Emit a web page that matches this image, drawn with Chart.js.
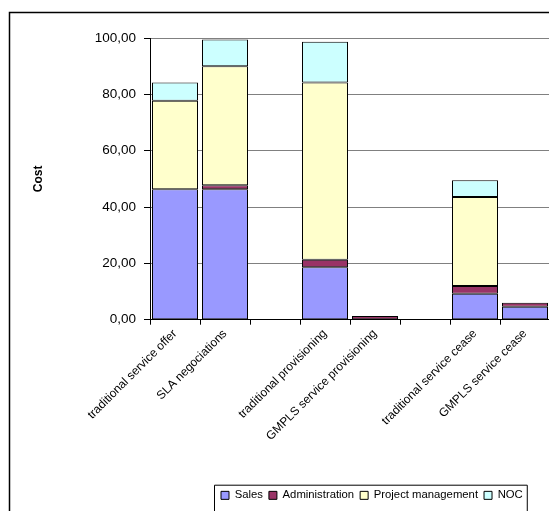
<!DOCTYPE html>
<html><head><meta charset="utf-8">
<script src="https://cdn.jsdelivr.net/npm/chart.js@4.4.0/dist/chart.umd.min.js"></script>
<style>html,body{margin:0;padding:0;overflow:hidden;background:#fff}#wrap{width:552px;height:511px;position:relative}</style>
</head><body><div id="wrap"><canvas id="c"></canvas></div>
<script>
const categories = ["traditional service offer","SLA negociations","","traditional provisioning","GMPLS service provisioning","","traditional service cease","GMPLS service cease"];
const sales = [46.3,46.3,null,18.6,null,null,9.2,4.6];
const administration = [null,1.4,null,2.7,1.3,null,2.8,1.4];
const projectManagement = [31.4,42.3,null,62.9,null,null,31.6,null];
const noc = [6.5,9.5,null,14.5,null,null,5.9,null];
const yTickLabels = ["0,00","20,00","40,00","60,00","80,00","100,00"];

const FONT = "Arial, 'Liberation Sans', sans-serif";

const framePlugin = {
  id: 'frame',
  afterLayout(chart) {
    const l = chart.legend;
    const w = l.right - l.left;
    l.left = 215; l.right = 215 + w;
  },
  afterDraw(chart) {
    const ctx = chart.ctx;
    ctx.save();
    ctx.strokeStyle = '#000';
    ctx.lineWidth = 1.5;
    ctx.beginPath();
    ctx.moveTo(9.5, 600); ctx.lineTo(9.5, 12.5); ctx.lineTo(600, 12.5);
    ctx.stroke();
    const hb = chart.legend.legendHitBoxes;
    if (hb && hb.length) {
      let minX = Infinity, maxX = -Infinity, minY = Infinity;
      hb.forEach(b => { minX = Math.min(minX, b.left); maxX = Math.max(maxX, b.left + b.width); minY = Math.min(minY, b.top); });
      ctx.lineWidth = 1;
      ctx.beginPath();
      ctx.moveTo(minX - 6.5, 600); ctx.lineTo(minX - 6.5, minY - 4.5); ctx.lineTo(maxX + 4.5, minY - 4.5); ctx.lineTo(maxX + 4.5, 600);
      ctx.stroke();
    }
    ctx.restore();
  }
};

const mk = (label, data, color) => ({label, data, backgroundColor: color, borderColor: '#000', borderWidth: 1, borderSkipped: false, barPercentage: 0.92, categoryPercentage: 1});

new Chart(document.getElementById('c'), {
  type: 'bar',
  data: {
    labels: categories,
    datasets: [
      mk('Sales', sales, '#9999FF'),
      mk('Administration', administration, '#993366'),
      mk('Project management', projectManagement, '#FFFFCC'),
      mk('NOC', noc, '#CCFFFF')
    ]
  },
  options: {
    responsive: true, maintainAspectRatio: false, animation: false,
    layout: {padding: {top: 38, left: 31, right: 2, bottom: 0}},
    plugins: {
      tooltip: {enabled: false},
      legend: {
        position: 'bottom', align: 'start', fullSize: false,
        labels: {boxWidth: 8, boxHeight: 8, padding: 6, color: '#000', font: {family: FONT, size: 11.3}}
      }
    },
    scales: {
      x: {
        stacked: true,
        grid: {display: true, drawOnChartArea: false, offset: true, tickLength: 5, color: '#000', tickColor: '#000'},
        border: {color: '#000', width: 1},
        ticks: {autoSkip: false, minRotation: 45, maxRotation: 45, padding: 2, color: '#000', font: {family: FONT, size: 12}},
        afterFit(s) { s.height = 164; }
      },
      y: {
        stacked: true, min: 0, max: 100,
        grid: {color: '#808080', tickColor: '#000', tickLength: 6},
        border: {color: '#000', width: 1},
        ticks: {stepSize: 20, padding: 8, color: '#000', font: {family: FONT, size: 13.5},
          callback: (v, i) => yTickLabels[i]},
        title: {display: true, text: 'Cost', color: '#000', padding: 0, font: {family: FONT, size: 12, weight: 'bold'}},
        afterFit(s) { s.width = 119; }
      }
    }
  },
  plugins: [framePlugin]
});
</script></body></html>
